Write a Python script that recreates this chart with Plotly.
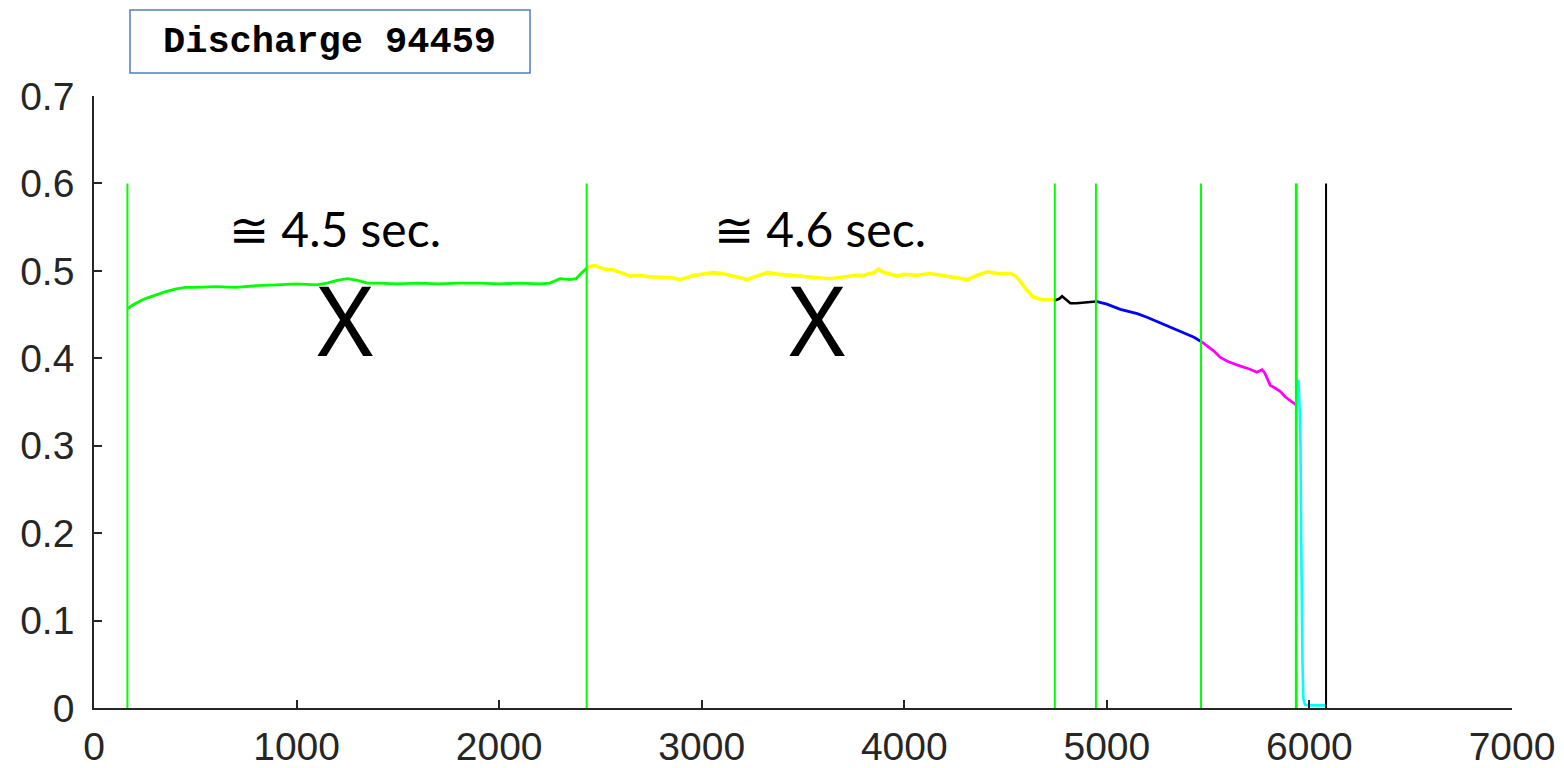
import plotly.graph_objects as go

# ---------------- data ----------------
green_x = [165, 200, 250, 300, 350, 400, 450, 500, 600, 700, 800, 900, 1000, 1100, 1150, 1200, 1250, 1300,
           1350, 1400, 1500, 1600, 1700, 1800, 1900, 2000, 2100, 2200, 2250, 2280, 2300, 2350, 2380, 2400, 2432]
green_y = [0.457, 0.462, 0.468, 0.472, 0.476, 0.479, 0.481, 0.481, 0.482, 0.481, 0.483, 0.484, 0.485, 0.484,
           0.486, 0.489, 0.491, 0.489, 0.486, 0.486, 0.485, 0.486, 0.485, 0.486, 0.486, 0.485, 0.486, 0.485,
           0.486, 0.489, 0.491, 0.490, 0.491, 0.496, 0.503]

yellow_x = [2432, 2470, 2520, 2564, 2600, 2647, 2700, 2740, 2780, 2850, 2894, 2950, 3000, 3057, 3100, 3150,
            3225, 3270, 3323, 3380, 3430, 3472, 3530, 3600, 3635, 3700, 3760, 3800, 3850, 3872, 3900, 3964,
            4000, 4060, 4128, 4180, 4250, 4311, 4360, 4410, 4460, 4524, 4550, 4573, 4600, 4637, 4680, 4743]
yellow_y = [0.504, 0.506, 0.502, 0.501, 0.498, 0.494, 0.495, 0.493, 0.493, 0.492, 0.490, 0.494, 0.496, 0.498,
            0.497, 0.494, 0.490, 0.494, 0.498, 0.496, 0.495, 0.495, 0.493, 0.492, 0.491, 0.493, 0.495, 0.495,
            0.498, 0.502, 0.498, 0.494, 0.496, 0.495, 0.497, 0.495, 0.492, 0.490, 0.495, 0.499, 0.497, 0.497,
            0.494, 0.488, 0.479, 0.470, 0.467, 0.467]

black_x = [4743, 4765, 4779, 4795, 4820, 4850, 4885, 4920, 4946]
black_y = [0.466, 0.468, 0.471, 0.468, 0.463, 0.463, 0.464, 0.465, 0.465]

blue_x = [4946, 5000, 5067, 5100, 5150, 5198, 5250, 5300, 5330, 5380, 5430, 5467]
blue_y = [0.465, 0.462, 0.456, 0.454, 0.451, 0.447, 0.442, 0.437, 0.434, 0.429, 0.424, 0.419]

magenta_x = [5467, 5500, 5530, 5560, 5600, 5659, 5700, 5741, 5766, 5780, 5807, 5830, 5857, 5880, 5905, 5932]
magenta_y = [0.419, 0.413, 0.408, 0.401, 0.396, 0.391, 0.388, 0.384, 0.387, 0.383, 0.369, 0.366, 0.362,
             0.356, 0.352, 0.347]

cyan_x = [5936, 5946, 5952, 5956, 5959, 5962, 5966, 5970, 5978, 6000, 6040, 6080]
cyan_y = [0.370, 0.375, 0.340, 0.300, 0.200, 0.120, 0.050, 0.010, 0.004, 0.003, 0.003, 0.003]

boundary_x = [165, 2432, 4743, 4946, 5465, 5933, 5937]
end_x = [6082]
marker_top = 0.6

x_ticks = [0, 1000, 2000, 3000, 4000, 5000, 6000, 7000]
x_tick_labels = ["0", "1000", "2000", "3000", "4000", "5000", "6000", "7000"]
y_ticks = [0, 0.1, 0.2, 0.3, 0.4, 0.5, 0.6, 0.7]
y_tick_labels = ["0", "0.1", "0.2", "0.3", "0.4", "0.5", "0.6", "0.7"]

title_text = "Discharge 94459"
notes = [("≅ 4.5 sec.", 1190, 0.548), ("≅ 4.6 sec.", 3583, 0.548)]
crosses = [("X", 1239, 0.446), ("X", 3569, 0.446)]

# ---------------- figure ----------------
fig = go.Figure()
segments = [
    (green_x, green_y, "#00FF00", 2.8),
    (yellow_x, yellow_y, "#FFFF00", 3.6),
    (black_x, black_y, "#000000", 2.6),
    (blue_x, blue_y, "#0000FF", 2.8),
    (magenta_x, magenta_y, "#FF00FF", 2.8),
    (cyan_x, cyan_y, "#00FFFF", 2.6),
]
for xs, ys, col, w in segments:
    fig.add_trace(go.Scatter(x=xs, y=ys, mode="lines", line=dict(color=col, width=w),
                             showlegend=False, hoverinfo="skip"))

for bx in boundary_x:
    fig.add_trace(go.Scatter(x=[bx, bx], y=[0, marker_top], mode="lines",
                             line=dict(color="#00FF00", width=2), showlegend=False, hoverinfo="skip"))
for ex in end_x:
    fig.add_trace(go.Scatter(x=[ex, ex], y=[0, marker_top], mode="lines",
                             line=dict(color="#000000", width=2), showlegend=False, hoverinfo="skip"))

for txt, xx, yy in notes:
    fig.add_annotation(x=xx, y=yy, xref="x", yref="y", text=txt, showarrow=False,
                       font=dict(family="Lato, Carlito, sans-serif", size=48, color="#000000"))
for txt, xx, yy in crosses:
    fig.add_annotation(x=xx, y=yy, xref="x", yref="y", text=txt, showarrow=False,
                       font=dict(family="Noto Sans, Open Sans, sans-serif", size=96, color="#000000"))

# title box
fig.add_shape(type="rect", xref="paper", yref="paper", x0=0.0254, x1=0.3075, y0=1.0376, y1=1.1405,
              line=dict(color="#4F7CC3", width=1.5), fillcolor="rgba(0,0,0,0)")
fig.add_annotation(x=0.1664, y=1.089, xref="paper", yref="paper", text="<b>" + title_text + "</b>",
                   showarrow=False, xanchor="center", yanchor="middle",
                   font=dict(family="Courier New, Liberation Mono, monospace", size=37, color="#000000"))

axis_common = dict(showline=True, linecolor="#262626", linewidth=1.6, ticks="inside", ticklen=8,
                   tickwidth=1.5, tickcolor="#262626", showgrid=False, zeroline=False, mirror=False,
                   automargin=False,
                   tickfont=dict(family="Liberation Sans, Arial, sans-serif", size=39, color="#262626"))

fig.update_layout(
    width=1564, height=768,
    margin=dict(l=94, r=52, t=96, b=60),
    paper_bgcolor="white", plot_bgcolor="white",
    xaxis=dict(range=[0, 7000], tickvals=x_ticks, ticktext=x_tick_labels, ticklabelstandoff=3, **axis_common),
    yaxis=dict(range=[0, 0.7], tickvals=y_ticks, ticktext=y_tick_labels, ticklabelstandoff=10, **axis_common),
)

fig.write_html("out.html")
